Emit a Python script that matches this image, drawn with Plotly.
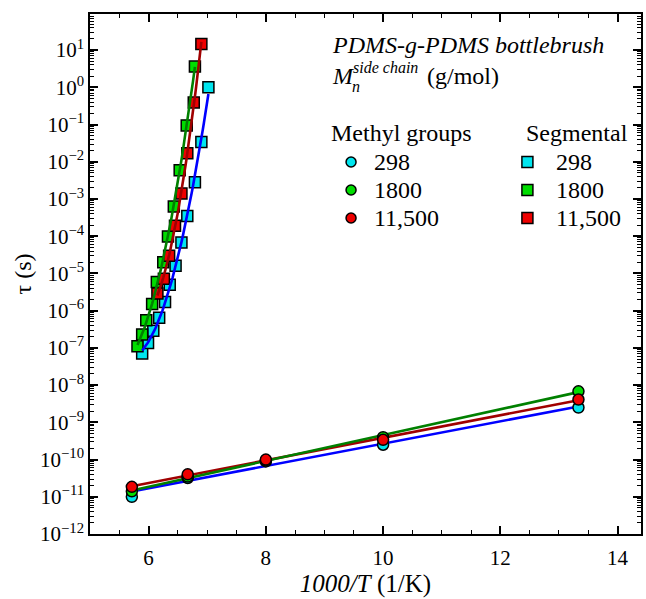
import numpy as np
import plotly.graph_objects as go

# ---------------- data ----------------
# Methyl-group relaxation (circles)
x_methyl = [5.714, 6.667, 8.0, 10.0, 13.333]
tau_methyl_298 = [1.0e-11, 3.2e-11, 8.9e-11, 2.5e-10, 2.5e-9]
tau_methyl_1800 = [1.4e-11, 3.5e-11, 9.5e-11, 4.0e-10, 6.8e-9]
tau_methyl_11500 = [1.85e-11, 4.0e-11, 1.0e-10, 3.4e-10, 4.1e-9]

# Segmental relaxation (squares)
x_seg_298 = [5.89, 5.99, 6.08, 6.18, 6.28, 6.36, 6.46, 6.56, 6.66, 6.79, 6.90, 7.02]
tau_seg_298 = [7.1e-8, 1.35e-7, 2.9e-7, 6.5e-7, 1.7e-6, 5.0e-6, 1.6e-5, 6.8e-5,
               3.5e-4, 2.8e-3, 3.4e-2, 1.0]
x_seg_1800 = [5.81, 5.89, 5.96, 6.06, 6.14, 6.25, 6.33, 6.43, 6.53, 6.65, 6.79]
tau_seg_1800 = [1.1e-7, 2.3e-7, 5.5e-7, 1.5e-6, 5.9e-6, 2.0e-5, 9.8e-5, 6.3e-4,
                5.9e-3, 9.5e-2, 3.6]
x_seg_11500 = [6.15, 6.26, 6.35, 6.45, 6.56, 6.66, 6.77, 6.90]
tau_seg_11500 = [2.9e-6, 7.2e-6, 3.0e-5, 1.9e-4, 1.4e-3, 1.7e-2, 0.39, 14.6]

labels = ["298", "1800", "11,500"]
ytick_exps = list(range(-12, 2))
xtick_vals = [6, 8, 10, 12, 14]

# ---------------- styles ----------------
FONT = "Liberation Serif"
fill_cols = ["#00E5EE", "#00DD00", "#EE0000"]
line_cols = ["#0000FF", "#008000", "#A00000"]

fig = go.Figure()


def fit_curve(xs, ys, deg):
    xs = np.asarray(xs, float)
    ly = np.log10(np.asarray(ys, float))
    p = np.polyfit(xs, ly, deg)
    xf = np.linspace(xs.min(), xs.max(), 60)
    return xf, 10 ** np.polyval(p, xf)


methyl = [tau_methyl_298, tau_methyl_1800, tau_methyl_11500]
for i in [0, 2, 1]:
    xf, yf = fit_curve(x_methyl, methyl[i], 1)
    fig.add_trace(go.Scatter(x=xf, y=yf, mode="lines",
                             line=dict(color=line_cols[i], width=2.6),
                             showlegend=False, hoverinfo="skip"))
for i in [0, 1, 2]:
    fig.add_trace(go.Scatter(x=x_methyl, y=methyl[i], mode="markers",
                             marker=dict(symbol="circle", size=11, color=fill_cols[i],
                                         line=dict(color="black", width=1.5)),
                             showlegend=False))

seg_x = [x_seg_298, x_seg_1800, x_seg_11500]
seg_y = [tau_seg_298, tau_seg_1800, tau_seg_11500]
for i in [0, 1, 2]:
    fig.add_trace(go.Scatter(x=seg_x[i], y=seg_y[i], mode="markers",
                             marker=dict(symbol="square", size=11, color=fill_cols[i],
                                         line=dict(color="black", width=1.5)),
                             showlegend=False))
for i in [0, 1, 2]:
    xf, yf = fit_curve(seg_x[i], seg_y[i], 2)
    fig.add_trace(go.Scatter(x=xf, y=yf, mode="lines",
                             line=dict(color=line_cols[i], width=2.6),
                             showlegend=False, hoverinfo="skip"))

# ---------------- axes ----------------
axis_common = dict(showline=True, linecolor="black", linewidth=1.5, mirror="allticks",
                   ticks="inside", ticklen=8, tickwidth=1.5, tickcolor="black",
                   showgrid=False, zeroline=False,
                   tickfont=dict(family=FONT, size=21, color="black"))

fig.update_xaxes(range=[5, 14.4], tickvals=xtick_vals,
                 ticktext=[str(v) for v in xtick_vals],
                 ticklabelstandoff=4,
                 minor=dict(ticks="inside", ticklen=4, tickwidth=1.2, tickcolor="black",
                            dtick=0.5, tick0=5, showgrid=False),
                 title=dict(text="<i>1000/T</i> (1/K)",
                            font=dict(family=FONT, size=25, color="black"), standoff=2),
                 **axis_common)

fig.update_yaxes(type="log", range=[-12, 1.97],
                 tickvals=[10.0 ** e for e in ytick_exps],
                 ticktext=["10<sup>%s</sup>" % (str(e).replace("-", "\u2212")) for e in ytick_exps],
                 minor=dict(ticks="inside", ticklen=4, tickwidth=1, tickcolor="black",
                            dtick="D1", showgrid=False),
                 title=dict(text="\u03c4 (s)", font=dict(family=FONT, size=24, color="black"),
                            standoff=2),
                 **axis_common)

# ---------------- legend (manual) ----------------
W, H = 646, 599
L, R, T, B = 90, 3, 14, 65
pw, ph = W - L - R, H - T - B


def px(xp):
    return (xp - L) / pw


def py(yp):
    return 1 - (yp - T) / ph


def note(xp, yp, text, size=24):
    return dict(x=px(xp), y=py(yp), xref="paper", yref="paper", xanchor="left",
                yanchor="middle", text=text, showarrow=False,
                font=dict(family=FONT, size=size, color="black"))


ann = [
    note(331, 45, "<i>PDMS-g-PDMS bottlebrush</i>"),
    note(331, 76, "<i>M</i>"),
    note(351, 87, "<i>n</i>", 16),
    note(352, 68, "<i>side chain</i>", 16),
    note(426, 76, "(g/mol)"),
    note(330, 133, "Methyl groups"),
    note(526, 133, "Segmental"),
]

shapes = []
row_y = [162, 190, 218]
for i, lab in enumerate(labels):
    ann.append(note(373, row_y[i], lab))
    ann.append(note(556, row_y[i], lab))
    shapes.append(dict(type="circle", xref="paper", yref="paper",
                       xsizemode="pixel", ysizemode="pixel",
                       xanchor=px(352), yanchor=py(row_y[i]),
                       x0=-5, x1=5, y0=-5, y1=5,
                       fillcolor=fill_cols[i], line=dict(color="black", width=1.5)))
    shapes.append(dict(type="rect", xref="paper", yref="paper",
                       xsizemode="pixel", ysizemode="pixel",
                       xanchor=px(529), yanchor=py(row_y[i]),
                       x0=-5.5, x1=5.5, y0=-5.5, y1=5.5,
                       fillcolor=fill_cols[i], line=dict(color="black", width=1.5)))

fig.update_layout(width=W, height=H, margin=dict(l=L, r=R, t=T, b=B),
                  paper_bgcolor="white", plot_bgcolor="white",
                  annotations=ann, shapes=shapes, showlegend=False,
                  font=dict(family=FONT, size=20, color="black"))

fig.write_html("out.html")
